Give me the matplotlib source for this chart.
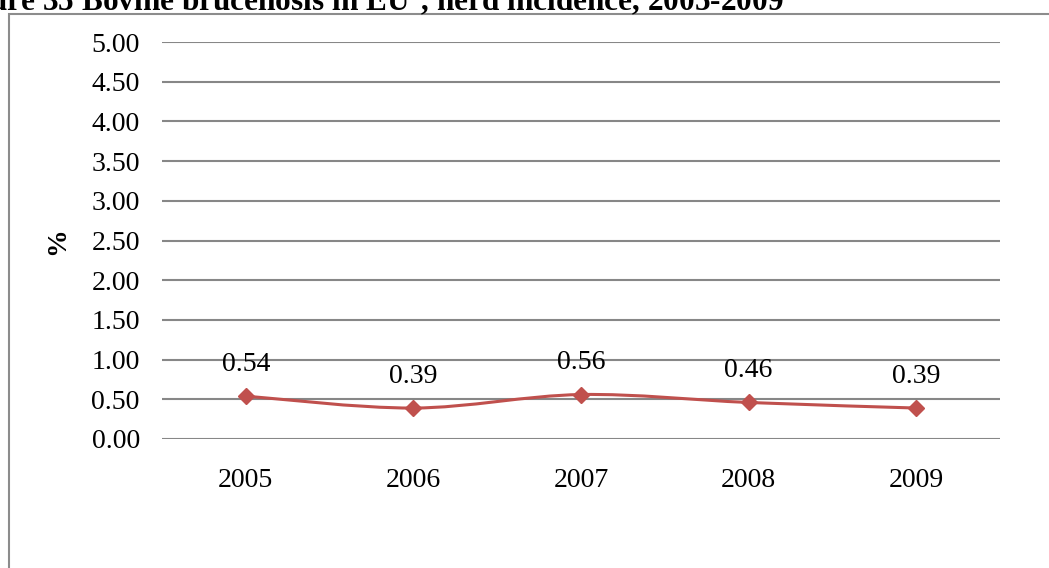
import matplotlib.pyplot as plt
from matplotlib.path import Path
from matplotlib.patches import PathPatch, Rectangle

years = ["2005", "2006", "2007", "2008", "2009"]
incidence = [0.54, 0.39, 0.56, 0.46, 0.39]
y_ticks = [0.0, 0.5, 1.0, 1.5, 2.0, 2.5, 3.0, 3.5, 4.0, 4.5, 5.0]

plt.rcParams['font.family'] = ['Liberation Serif', 'DejaVu Serif']

W, H = 1049, 568
fig = plt.figure(figsize=(W / 100, H / 100), dpi=100)

# outer chart frame, cropped at right and bottom
fig.patches.append(Rectangle((9 / W, -0.1), 1.2, (H - 14) / H + 0.1, transform=fig.transFigure,
                             fill=False, edgecolor='#8c8c8c', linewidth=1.5))

# title, cut off at the left and top like the source screenshot
fig.text(784 / W, 1 - 11 / H, "Figure 35 Bovine brucellosis in EU$^{*}$, herd incidence, 2005-2009",
         fontsize=22.5, fontweight='bold', va='baseline', ha='right')

ax = fig.add_axes([162 / W, 1 - 439 / H, (1000 - 162) / W, (439 - 42) / H])
x = list(range(len(years)))

# smooth line like Excel (Catmull-Rom through the points)
verts = [(x[0], incidence[0])]
codes = [Path.MOVETO]
n = len(x)
for i in range(n - 1):
    p0 = (x[max(i - 1, 0)], incidence[max(i - 1, 0)])
    p1 = (x[i], incidence[i])
    p2 = (x[i + 1], incidence[i + 1])
    p3 = (x[min(i + 2, n - 1)], incidence[min(i + 2, n - 1)])
    c1 = (p1[0] + (p2[0] - p0[0]) / 6, p1[1] + (p2[1] - p0[1]) / 6)
    c2 = (p2[0] - (p3[0] - p1[0]) / 6, p2[1] - (p3[1] - p1[1]) / 6)
    verts += [c1, c2, p2]
    codes += [Path.CURVE4] * 3
ax.add_patch(PathPatch(Path(verts, codes), fill=False, edgecolor='#C0504D', linewidth=2.2, zorder=3))
ax.plot(x, incidence, linestyle='none', marker='D', markersize=8.5, color='#C0504D', zorder=4)

for xi, v in zip(x, incidence):
    ax.annotate(f"{v:.2f}", (xi, v), xytext=(0, 23), textcoords='offset points',
                ha='center', va='center', fontsize=20)

ax.set_xlim(-0.5, len(years) - 0.5)
ax.set_ylim(0, 5)
ax.set_yticks(y_ticks)
ax.set_yticklabels([f"{t:.2f}" for t in y_ticks], fontsize=20)
ax.set_xticks(x)
ax.set_xticklabels(years, fontsize=20)
ax.tick_params(axis='y', length=0, pad=16)
ax.tick_params(axis='x', length=0, pad=21)
ax.grid(axis='y', color='#878787', linewidth=1.5)
ax.set_axisbelow(True)
for s in ax.spines.values():
    s.set_visible(False)

fig.text(58 / W, 1 - 241 / H, "%", rotation=90, fontsize=20, fontweight='bold',
         ha='center', va='center')

fig.savefig("out.png", dpi=100)
